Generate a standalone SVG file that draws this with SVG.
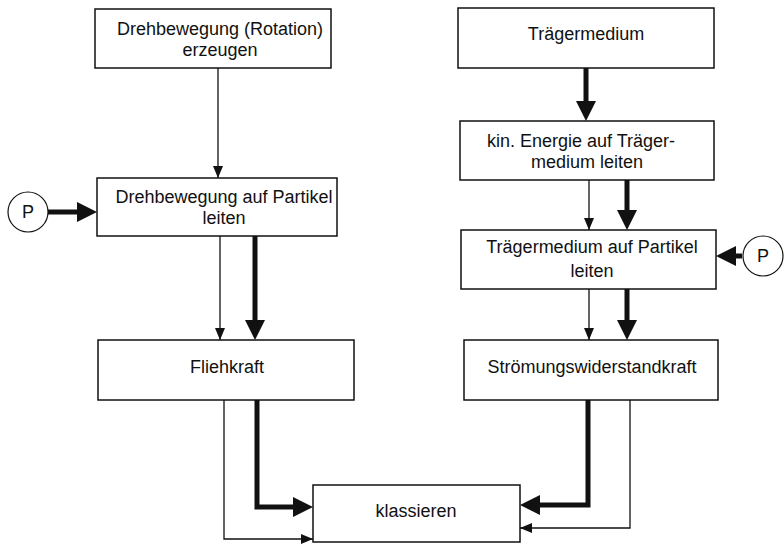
<svg xmlns="http://www.w3.org/2000/svg" width="784" height="544" viewBox="0 0 784 544">
<style>
.box{fill:#fff;stroke:#111;stroke-width:1.5}
.t{font-family:"Liberation Sans",Arial,sans-serif;font-size:18px;fill:#111;text-anchor:middle}
.thin{fill:none;stroke:#111;stroke-width:1.3}
.thick{fill:none;stroke:#111;stroke-width:5}
</style>
<defs>
<marker id="ah" markerUnits="userSpaceOnUse" markerWidth="12" markerHeight="10" refX="12" refY="5" orient="auto"><path d="M0,0 L12,5 L0,10 z" fill="#111"/></marker>
<marker id="AH" markerUnits="userSpaceOnUse" markerWidth="20" markerHeight="20" refX="10" refY="10" orient="auto"><path d="M0,0 L20,10 L0,20 z" fill="#111"/></marker>
</defs>
<rect width="784" height="544" fill="#fff"/>
<g id="connectors">
<path class="thin" d="M218,68 V178" marker-end="url(#ah)"/>
<path class="thick" d="M48,212 H87" marker-end="url(#AH)"/>
<path class="thin" d="M220,236 V340" marker-end="url(#ah)"/>
<path class="thick" d="M255,236 V330" marker-end="url(#AH)"/>
<path class="thin" d="M224,400 V539 H313" marker-end="url(#ah)"/>
<path class="thick" d="M257,400 V507 H303" marker-end="url(#AH)"/>
<path class="thick" d="M586,68 V111" marker-end="url(#AH)"/>
<path class="thin" d="M589,180 V230" marker-end="url(#ah)"/>
<path class="thick" d="M627,180 V220" marker-end="url(#AH)"/>
<path class="thick" d="M742,256 H726" marker-end="url(#AH)"/>
<path class="thin" d="M589,289 V340" marker-end="url(#ah)"/>
<path class="thick" d="M627,289 V330" marker-end="url(#AH)"/>
<path class="thick" d="M588,400 V505 H530" marker-end="url(#AH)"/>
<path class="thin" d="M630,400 V528 H520" marker-end="url(#ah)"/>
</g>
<g id="rotation">
<rect class="box" x="95" y="9" width="236" height="59"/>
<text class="t" x="220" y="35">Drehbewegung (Rotation)</text>
<text class="t" x="220" y="56">erzeugen</text>
</g>
<g id="p-left">
<circle cx="28" cy="212" r="20" fill="#fff" stroke="#111" stroke-width="1.2"/>
<text class="t" x="28" y="218">P</text>
</g>
<g id="drehbewegung-partikel">
<rect class="box" x="97" y="178" width="240" height="58"/>
<text class="t" x="224" y="203">Drehbewegung auf Partikel</text>
<text class="t" x="224" y="224">leiten</text>
</g>
<g id="fliehkraft">
<rect class="box" x="98" y="340" width="256" height="60"/>
<text class="t" x="227" y="373">Fliehkraft</text>
</g>
<g id="traegermedium">
<rect class="box" x="458" y="8" width="256" height="60"/>
<text class="t" x="586" y="40">Trägermedium</text>
</g>
<g id="kin-energie">
<rect class="box" x="460" y="121" width="254" height="59"/>
<text class="t" x="581" y="147">kin. Energie auf Träger-</text>
<text class="t" x="587" y="168">medium leiten</text>
</g>
<g id="traeger-partikel">
<rect class="box" x="461" y="230" width="255" height="59"/>
<text class="t" x="592" y="253">Trägermedium auf Partikel</text>
<text class="t" x="592" y="277">leiten</text>
</g>
<g id="p-right">
<circle cx="763" cy="256" r="20" fill="#fff" stroke="#111" stroke-width="1.2"/>
<text class="t" x="763" y="262">P</text>
</g>
<g id="stroemung">
<rect class="box" x="464" y="340" width="254" height="60"/>
<text class="t" x="592" y="373">Strömungswiderstandkraft</text>
</g>
<g id="klassieren">
<rect class="box" x="313" y="485" width="207" height="57"/>
<text class="t" x="416" y="517">klassieren</text>
</g>
</svg>
